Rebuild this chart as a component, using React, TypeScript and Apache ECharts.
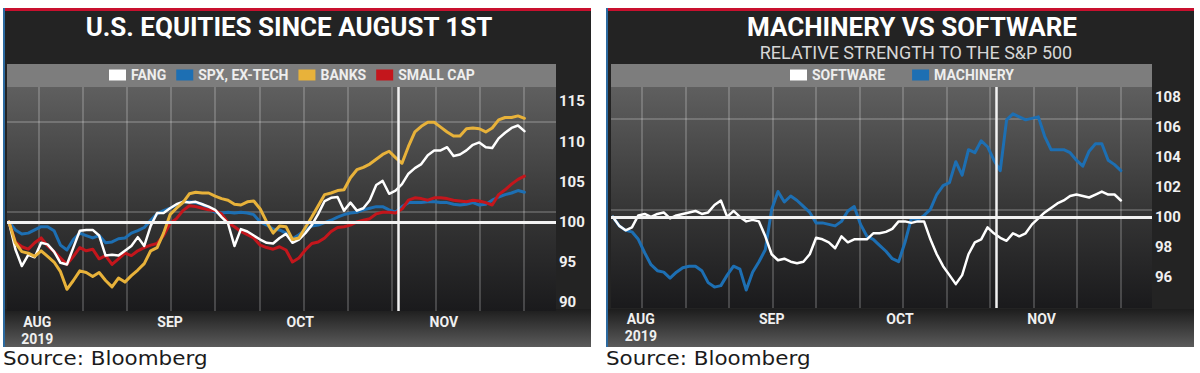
import React, { useEffect, useRef } from "react";
import * as echarts from "echarts";

// ---- trading days, Aug 1 – Nov 22, 2019 ----
const AUG_DAYS = [1, 2, 5, 6, 7, 8, 9, 12, 13, 14, 15, 16, 19, 20, 21, 22, 23, 26, 27, 28, 29, 30];
const SEP_DAYS = [3, 4, 5, 6, 9, 10, 11, 12, 13, 16, 17, 18, 19, 20, 23, 24, 25, 26, 27, 30];
const OCT_DAYS = [1, 2, 3, 4, 7, 8, 9, 10, 11, 14, 15, 16, 17, 18, 21, 22, 23, 24, 25, 28, 29, 30, 31];
const NOV_DAYS = [1, 4, 5, 6, 7, 8, 11, 12, 13, 14, 15, 18, 19, 20, 21, 22];
const pad = (d: number) => String(d).padStart(2, "0");
const DATES: string[] = [
  ...AUG_DAYS.map((d) => `2019-08-${pad(d)}`),
  ...SEP_DAYS.map((d) => `2019-09-${pad(d)}`),
  ...OCT_DAYS.map((d) => `2019-10-${pad(d)}`),
  ...NOV_DAYS.map((d) => `2019-11-${pad(d)}`),
];

// ---- left chart: U.S. equities since August 1st (rebased to 100) ----
const FANG = [
  100.0, 96.6, 94.5, 95.9, 95.6, 97.4, 97.2, 96.3, 94.9, 94.7,
  96.8, 98.9, 99.0, 99.0, 98.3, 95.8, 95.9, 95.8, 96.4, 97.0,
  98.1, 97.0, 99.5, 101.1, 101.1, 101.7, 102.2, 102.5, 102.4, 102.5,
  102.2, 101.9, 101.5, 100.6, 99.8, 97.0, 99.1, 98.8, 98.3, 97.8,
  97.4, 97.3, 98.0, 98.5, 97.4, 97.8, 98.6, 99.6, 101.0, 102.6,
  103.0, 103.1, 101.4, 102.4, 101.4, 101.7, 102.7, 104.6, 105.1, 103.5,
  103.9, 104.7, 106.0, 106.7, 107.2, 108.3, 108.9, 108.9, 109.3, 108.2,
  108.4, 108.9, 109.6, 109.9, 109.3, 109.2, 110.4, 111.1, 111.7, 112.0, 111.3,
];
const SPX_EX_TECH = [
  100.0, 99.0, 98.5, 98.6, 99.0, 99.4, 99.4, 98.9, 97.1, 96.5,
  97.8, 98.6, 98.3, 98.0, 98.3, 97.4, 97.5, 97.9, 98.0, 98.6,
  98.9, 99.3, 100.2, 101.0, 101.4, 101.7, 102.1, 102.5, 102.5, 102.4,
  102.2, 101.6, 101.2, 101.1, 101.2, 101.1, 101.2, 101.1, 100.9, 100.0,
  99.6, 99.1, 99.0, 98.6, 97.9, 98.4, 99.0, 99.5, 99.6, 99.9,
  100.2, 100.6, 100.9, 101.1, 101.2, 101.5, 101.7, 101.9, 101.9, 101.5,
  101.2, 101.9, 102.4, 102.4, 102.4, 102.5, 102.5, 102.4, 102.4, 102.2,
  102.1, 102.2, 102.4, 102.1, 102.2, 102.7, 103.1, 103.4, 103.6, 103.9, 103.7,
];
const BANKS = [
  100.0, 97.4, 96.3, 96.1, 95.7, 96.4, 95.7, 95.0, 93.8, 91.6,
  92.7, 93.9, 93.7, 93.2, 93.7, 92.7, 91.9, 93.0, 92.5, 93.3,
  94.0, 94.8, 96.4, 96.8, 98.6, 100.9, 101.7, 102.4, 103.5, 103.7,
  103.6, 103.6, 103.2, 102.9, 102.7, 102.2, 102.1, 102.5, 102.6, 101.6,
  100.0, 98.6, 99.5, 99.4, 97.8, 98.0, 99.3, 100.6, 102.0, 103.4,
  103.6, 103.9, 104.0, 105.5, 106.5, 106.8, 107.2, 107.8, 108.4, 108.8,
  108.0, 107.3, 109.4, 111.2, 111.9, 112.4, 112.4, 111.8, 111.2, 110.7,
  110.7, 111.6, 111.7, 111.6, 111.2, 111.7, 112.7, 113.0, 113.0, 113.2, 112.9,
];
const SMALL_CAP = [
  100.0, 97.5, 96.9, 96.6, 97.4, 98.0, 97.0, 96.3, 95.5, 94.7,
  95.7, 96.8, 96.4, 96.6, 95.4, 95.8, 94.7, 95.4, 96.1, 95.8,
  96.4, 96.8, 97.1, 97.3, 98.3, 99.8, 100.4, 101.4, 102.0, 101.9,
  101.7, 101.5, 101.4, 101.0, 99.9, 99.4, 98.8, 98.4, 98.0, 97.1,
  96.8, 96.6, 96.9, 96.5, 95.0, 95.5, 96.5, 97.3, 97.5, 98.0,
  98.8, 99.3, 99.4, 99.6, 100.0, 100.2, 100.4, 101.0, 101.2, 101.2,
  101.1, 101.6, 102.7, 103.0, 102.9, 102.7, 103.0, 103.0, 102.9, 102.7,
  102.6, 102.5, 102.7, 102.6, 102.4, 102.1, 103.4, 104.0, 104.7, 105.3, 105.7,
];

// ---- right chart: relative strength to the S&P 500 ----
const SOFTWARE = [
  100.0, 99.4, 99.1, 99.3, 100.1, 100.2, 100.0, 100.2, 100.3, 99.9,
  100.1, 100.2, 100.3, 100.4, 100.2, 100.3, 100.8, 101.1, 100.0, 100.4,
  100.0, 99.7, 99.8, 99.7, 98.7, 97.5, 97.1, 97.2, 97.0, 96.9,
  97.0, 97.5, 98.6, 98.5, 98.3, 97.9, 98.7, 98.3, 98.5, 98.5,
  98.5, 98.9, 98.9, 99.0, 99.2, 99.7, 99.7, 99.6, 99.7, 99.7,
  98.5, 97.5, 96.7, 96.1, 95.5, 96.1, 97.5, 98.3, 98.5, 99.3,
  98.9, 98.6, 98.4, 98.9, 98.7, 98.9, 99.5, 99.9, 100.3, 100.6,
  100.9, 101.1, 101.4, 101.5, 101.4, 101.3, 101.5, 101.7, 101.5, 101.5, 101.1,
];
const MACHINERY = [
  100.0, 99.4, 99.1, 99.0, 98.5, 97.6, 96.8, 96.4, 96.3, 95.9,
  96.3, 96.6, 96.7, 96.7, 96.4, 95.6, 95.3, 95.4, 96.1, 96.7,
  96.5, 95.1, 96.3, 97.0, 97.8, 100.5, 101.7, 101.0, 101.4, 101.1,
  100.7, 100.3, 99.6, 99.6, 99.5, 99.4, 99.7, 100.4, 100.7, 99.5,
  98.7, 98.5, 98.1, 97.7, 97.2, 97.0, 98.3, 99.9, 99.8, 100.1,
  100.5, 101.5, 102.1, 102.3, 103.7, 102.8, 104.5, 104.3, 105.1, 104.7,
  103.8, 103.1, 106.5, 106.9, 106.7, 106.5, 106.6, 106.7, 105.4, 104.5,
  104.5, 104.5, 104.3, 103.8, 103.4, 104.4, 104.9, 104.9, 103.8, 103.5, 103.1,
];

// ---- axes ----
const LEFT_Y_LABELS = [90, 95, 100, 105, 110, 115];
const RIGHT_Y_LABELS = [96, 98, 100, 102, 104, 106, 108];
const MONTH_LABELS = ["AUG\n2019", "SEP", "OCT", "NOV"];
const MONTH_LABEL_AT = [4.4, 25.0, 45.2, 67.5];
const X_GRID_AT = [4.6, 11.45, 18.3, 25.15, 32.0, 38.85, 45.7, 52.55, 59.4, 66.25, 73.1, 79.95];
const LEFT_Y_GRID_AT = [112.5, 101.2];
const RIGHT_Y_GRID_AT = [106.6, 100.5];
const EVENT_AT = 60.4;
const BASELINE = 100;

const C_WHITE = "#ffffff";
const C_BLUE = "#1d6fb3";
const C_GOLD = "#e8b23a";
const C_RED = "#c4161c";

export default function App() {
  const ref = useRef<HTMLDivElement>(null);

  useEffect(() => {
    const chart = echarts.init(ref.current!, null, { renderer: "svg" });
    const toXY = (vals: number[]) => DATES.map((_, i) => [i, vals[i]]);
    const grad = (stops: [number, string][]) =>
      new echarts.graphic.LinearGradient(0, 0, 0, 1, stops.map(([offset, color]) => ({ offset, color })));
    const axisText = { color: "#f0f0f0", fontFamily: "Roboto", fontWeight: "bold", fontSize: 15 };

    const xAxisFor = (gridIndex: number) => ({
      type: "value",
      gridIndex,
      min: -0.3,
      max: 84.9,
      z: 5,
      axisLine: { show: false },
      axisTick: { show: false },
      splitLine: { show: false },
      axisLabel: {
        ...axisText,
        fontSize: 14,
        margin: 2,
        lineHeight: 17,
        customValues: MONTH_LABEL_AT,
        formatter: (v: number) => {
          const k = MONTH_LABEL_AT.findIndex((m) => Math.abs(m - v) < 1e-6);
          return k >= 0 ? MONTH_LABELS[k] : "";
        },
      },
    });
    const yAxisFor = (gridIndex: number, min: number, max: number, labels: number[]) => ({
      type: "value",
      gridIndex,
      position: "right",
      min,
      max,
      z: 5,
      axisLine: { show: false },
      axisTick: { show: false },
      splitLine: { show: false },
      axisLabel: { ...axisText, margin: 3, customValues: labels },
    });
    const lineSeries = (name: string, vals: number[], color: string, idx: number, width: number) => ({
      type: "line",
      name,
      xAxisIndex: idx,
      yAxisIndex: idx,
      data: toXY(vals),
      showSymbol: false,
      symbol: "none",
      z: 2,
      color,
      itemStyle: { color },
      lineStyle: { color, width, cap: "round", join: "round" },
    });
    const gridLines = (idx: number, yGrid: number[]) => ({
      type: "line",
      name: `grid-${idx}`,
      xAxisIndex: idx,
      yAxisIndex: idx,
      data: [],
      silent: true,
      z: 1,
      markLine: {
        silent: true,
        z: 1,
        symbol: ["none", "none"],
        label: { show: false },
        lineStyle: { color: "rgba(255,255,255,0.26)", width: 1.5, type: "solid" },
        data: [...X_GRID_AT.map((v) => ({ xAxis: v })), ...yGrid.map((v) => ({ yAxis: v }))],
      },
    });
    const whiteLines = (idx: number) => ({
      type: "line",
      name: `ref-${idx}`,
      xAxisIndex: idx,
      yAxisIndex: idx,
      data: [],
      silent: true,
      z: 3,
      markLine: {
        silent: true,
        z: 3,
        symbol: ["none", "none"],
        label: { show: false },
        data: [
          { yAxis: BASELINE, lineStyle: { color: "#f2f2f2", width: 3, type: "solid" } },
          { xAxis: EVENT_AT, lineStyle: { color: "#f2f2f2", width: 2.5, type: "solid" } },
        ],
      },
    });

    const panel = (x0: number) => [
      { type: "rect", z: 0, silent: true, shape: { x: x0, y: 8, width: 588, height: 339 }, style: { fill: "#232323" } },
      { type: "rect", z: 0, silent: true, shape: { x: x0, y: 309, width: 588, height: 38 }, style: { fill: grad([[0, "#1d1d1d"], [1, "#5b5b5b"]]) } },
      { type: "rect", z: 0, silent: true, shape: { x: x0, y: 8, width: 588, height: 3 }, style: { fill: "#c8102e" } },
      { type: "rect", z: 0, silent: true, shape: { x: x0, y: 8, width: 2, height: 339 }, style: { fill: "#2c6aa0" } },
    ];
    const txt = (x: number, y: number, text: string, font: string, fill: string, align = "center", scaleX = 1) => ({
      type: "text",
      z: 6,
      silent: true,
      x,
      y,
      scaleX,
      style: { text, font, fill, align, verticalAlign: "middle", textAlign: align, textVerticalAlign: "middle" },
    });

    chart.setOption({
      animation: false,
      graphic: [
        ...panel(3),
        { type: "rect", z: 0, silent: true, shape: { x: 7, y: 64, width: 549, height: 23 }, style: { fill: "#7d7d7d" } },
        { type: "rect", z: 0, silent: true, shape: { x: 7, y: 87, width: 549, height: 224 }, style: { fill: grad([[0, "#5f5f5f"], [0.55, "#363636"], [1, "#1a1a1c"]]) } },
        ...panel(606),
        { type: "rect", z: 0, silent: true, shape: { x: 611, y: 64, width: 541, height: 23 }, style: { fill: "#7d7d7d" } },
        { type: "rect", z: 0, silent: true, shape: { x: 611, y: 87, width: 541, height: 221 }, style: { fill: grad([[0, "#5f5f5f"], [0.55, "#363636"], [1, "#1a1a1c"]]) } },
        txt(289, 27, "U.S. EQUITIES SINCE AUGUST 1ST", "bold 26px Roboto", "#ffffff"),
        txt(912, 27, "MACHINERY VS SOFTWARE", "bold 26px Roboto", "#ffffff"),
        txt(916, 52, "RELATIVE STRENGTH TO THE S&P 500", "18px Roboto", "#d6d6d6"),
        txt(3, 358, "Source: Bloomberg", "19px 'DejaVu Sans'", "#1b1b1b", "left", 1.13),
        txt(606, 358, "Source: Bloomberg", "19px 'DejaVu Sans'", "#1b1b1b", "left", 1.13),
      ],
      legend: [
        {
          left: 109, top: 68, padding: 0, itemWidth: 17, itemHeight: 11, itemGap: 10, icon: "rect", selectedMode: false,
          data: ["FANG", "SPX, EX-TECH", "BANKS", "SMALL CAP"],
          textStyle: { color: "#eeeeee", fontFamily: "Roboto", fontWeight: "bold", fontSize: 14 },
        },
        {
          left: 790, top: 68, padding: 0, itemWidth: 17, itemHeight: 11, itemGap: 27, icon: "rect", selectedMode: false,
          data: ["SOFTWARE", "MACHINERY"],
          textStyle: { color: "#eeeeee", fontFamily: "Roboto", fontWeight: "bold", fontSize: 14 },
        },
      ],
      grid: [
        { left: 7, top: 87, width: 549, height: 224, containLabel: false },
        { left: 611, top: 87, width: 541, height: 221, containLabel: false },
      ],
      xAxis: [xAxisFor(0), xAxisFor(1)],
      yAxis: [yAxisFor(0, 88.9, 116.8, LEFT_Y_LABELS), yAxisFor(1, 93.9, 108.7, RIGHT_Y_LABELS)],
      series: [
        gridLines(0, LEFT_Y_GRID_AT),
        lineSeries("SPX, EX-TECH", SPX_EX_TECH, C_BLUE, 0, 3),
        lineSeries("SMALL CAP", SMALL_CAP, C_RED, 0, 3),
        lineSeries("FANG", FANG, C_WHITE, 0, 2.5),
        lineSeries("BANKS", BANKS, C_GOLD, 0, 3),
        whiteLines(0),
        gridLines(1, RIGHT_Y_GRID_AT),
        lineSeries("MACHINERY", MACHINERY, C_BLUE, 1, 3),
        lineSeries("SOFTWARE", SOFTWARE, C_WHITE, 1, 2.5),
        whiteLines(1),
      ],
    });
    return () => chart.dispose();
  }, []);

  return <div ref={ref} style={{ position: "absolute", left: 0, top: 0, width: 1200, height: 373 }} />;
}
